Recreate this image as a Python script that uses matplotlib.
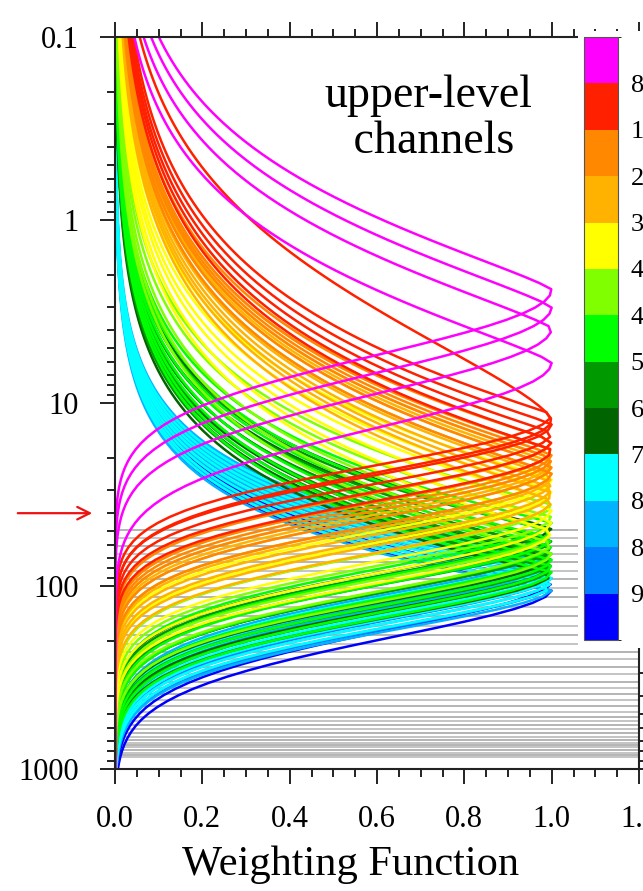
import numpy as np
import matplotlib
matplotlib.use('Agg')
import matplotlib.pyplot as plt
from matplotlib.colors import ListedColormap, BoundaryNorm
from matplotlib.patches import Rectangle
import matplotlib.ticker as mticker

plt.rcParams['font.family'] = ['Liberation Serif', 'DejaVu Serif']

# ---------------- data ----------------
group_colors = ['#ff00ff', '#ff2000', '#ff8800', '#ffb300', '#ffff00', '#80ff00',
                '#00ff00', '#009900', '#006400', '#00ffff', '#00b4ff', '#0080ff', '#0000ff']
cbar_bounds = list(range(0, 105, 8))
cbar_labels = [8, 16, 24, 32, 40, 48, 56, 64, 72, 80, 88, 96]

# curve sets: colour index, peak pressures (hPa) of the weighting functions
set_color = [0, 1, 1, 2, 3, 4, 5, 6, 7, 8, 9, 10, 11, 12]
peaks = [
    [2.4, 3.0, 3.9, 6.0],                                   # magenta
    [12.4],                                                 # red (broad)
    [11.5, 13, 14.5, 16, 18],                               # red
    [16, 18, 19, 20, 22, 24],                               # dark orange
    [18, 20, 21, 22, 24, 25, 27, 29, 31, 34],               # orange
    [26, 30, 34, 38, 44, 50],                               # yellow
    [36, 42, 50, 58, 66],                                   # yellow-green
    [45, 50, 55, 60, 66, 72, 78, 84],                       # green
    [50, 56, 62, 68, 74, 80],                               # mid green
    [48, 55, 62, 70, 78, 86],                               # dark green
    [68, 72, 76, 80, 85, 90, 95, 100],                      # cyan
    [66, 70, 74, 78, 82, 86, 90, 95, 100, 105],             # sky blue
    [90, 100],                                              # azure
    [95, 105],                                              # blue
]
# shape of each set: upper width (decades), upper exponent, lower width, lower exponent
upper_width = [0.69, 0.98, 0.69, 0.67, 0.67, 0.62, 0.56, 0.52, 0.5, 0.5, 0.39, 0.39, 0.4, 0.4]
upper_exp   = [1.2, 1.39, 1.05, 1.05, 1.05, 1.05, 1.05, 1.05, 1.05, 1.05, 1.05, 1.05, 1.05, 1.05]
lower_width = [0.5, 0.4, 0.39, 0.4, 0.4, 0.4, 0.38, 0.37, 0.36, 0.36, 0.35, 0.35, 0.36, 0.4]
lower_exp   = [2.0, 2.0, 2.0, 2.0, 2.0, 2.0, 1.9, 1.8, 1.8, 1.8, 1.7, 1.7, 1.7, 1.8]

# model levels (hPa) shown as grey lines
levels = [49.4, 54.7, 60.4, 66.8, 73.9, 82.8, 91.6, 102.6, 114.8, 130.3, 145.9,
          165.4, 185.2, 207.4, 229.4, 250.6, 277.3, 302.9, 335.0, 360.8, 389.4,
          419.8, 452.6, 488.3, 520.1, 547.0, 575.4, 604.3, 635.5, 668.3, 694.7,
          721.7, 739.9, 758.5, 787.7, 818.3, 838.5, 859.7]

arrow_level = 40.0

# ---------------- figure ----------------
W, H = 643, 891
fig = plt.figure(figsize=(W / 100, H / 100), dpi=100)
ax = fig.add_axes([115 / W, 1 - 769 / H, (639 - 115) / W, (769 - 37) / H])

ax.set_yscale('log')
ax.set_ylim(1000, 0.1)
ax.set_xlim(0, 1.2)

for i, lv in enumerate(levels):
    ax.axhline(lv, color='#b4b4b4' if i % 2 else '#a0a0a0', lw=1.1, zorder=1)

p = np.logspace(-1, 3, 120)
for g in range(len(peaks) - 1, -1, -1):
    ci = set_color[g]
    for p0 in peaks[g][::-1]:
        s = np.log10(p / p0)
        w = np.where(s < 0,
                     np.exp(-(np.abs(s) / upper_width[g]) ** upper_exp[g]),
                     np.exp(-(np.abs(s) / lower_width[g]) ** lower_exp[g]))
        ax.plot(w, p, color=group_colors[ci], lw=1.8, zorder=2 + (13 - g) * 0.01)

ax.set_yticks([0.1, 1, 10, 100, 1000])
ax.set_yticklabels(['0.1', '1', '10', '100', '1000'])
ax.set_xticks(np.arange(0, 1.21, 0.2))
ax.set_xticklabels(['0.0', '0.2', '0.4', '0.6', '0.8', '1.0', '1.2'])
ax.xaxis.set_minor_locator(mticker.MultipleLocator(0.05))
ax.tick_params(which='both', direction='out', top=True, right=True, labelsize=22,
               width=1.4, color='#222222')
ax.tick_params(which='major', length=11, pad=15)
ax.tick_params(which='minor', length=6)
for sp in ax.spines.values():
    sp.set_linewidth(1.5)
    sp.set_color('#222222')

fig.text(351 / W, 1 - 845 / H, 'Weighting Function', fontsize=30.5,
         ha='center', va='top')

ax.text((428 - 115) / 524, (769 - 119) / 732, 'upper-level\n channels',
        transform=ax.transAxes, fontsize=33, ha='center', va='center',
        linespacing=1.1, zorder=5)

ax.annotate('', xy=(-20 / 524, arrow_level), xytext=(-100 / 524, arrow_level),
            xycoords=('axes fraction', 'data'), textcoords=('axes fraction', 'data'),
            arrowprops=dict(arrowstyle='->,head_length=0.9,head_width=0.45',
                            color='#ee1111', lw=1.6), annotation_clip=False)

# white panel behind colour bar
fig.add_artist(Rectangle((578 / W, 1 - 648 / H), (W - 578) / W, (648 - 31) / H,
                         transform=fig.transFigure, facecolor='white',
                         edgecolor='none', zorder=10))

cax = fig.add_axes([584 / W, 1 - 640 / H, 34 / W, 603 / H], zorder=11)
cmap = ListedColormap(group_colors)
norm = BoundaryNorm(cbar_bounds, cmap.N)
sm = matplotlib.cm.ScalarMappable(cmap=cmap, norm=norm)
cb = fig.colorbar(sm, cax=cax, orientation='vertical', drawedges=True,
                  ticks=cbar_labels)
cax.invert_yaxis()
cb.outline.set_edgecolor('#555555')
cb.outline.set_linewidth(0.8)
cb.dividers.set_color('#444444')
cb.dividers.set_linewidth(0.6)
cax.tick_params(length=0, labelsize=19, pad=9)
cax.set_yticklabels([str(v) for v in cbar_labels])

fig.savefig('out.png', dpi=100)
